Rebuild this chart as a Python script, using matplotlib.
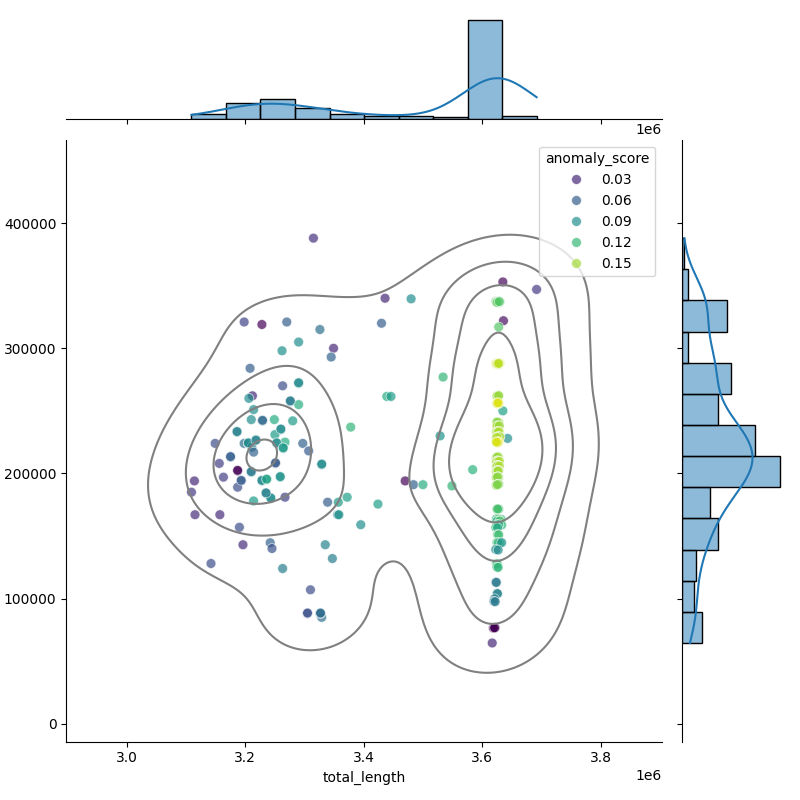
"""
Joint plot of total_length vs value, coloured by anomaly_score,
with KDE contours and marginal histograms.
"""
import matplotlib
matplotlib.use("Agg")
import matplotlib.pyplot as plt
import pandas as pd
import seaborn as sns

# ---- left cluster + scattered points ----
left_length = [
    3198000, 3228000, 3270000, 3326000, 3315000, 3436000, 3480000, 3290000, 3262000, 3349000,
    3345000, 3430000, 3208000, 3263000, 3290000, 3212000, 3206000, 3276000, 3290000, 3214000,
    3249000, 3280000, 3210000, 3229000, 3260000, 3186000, 3250000, 3149000, 3198000, 3205000,
    3218000, 3211000, 3253000, 3267000, 3264000, 3297000, 3307000, 3214000, 3175000, 3251000,
    3329000, 3156000, 3187000, 3163000, 3210000, 3193000, 3228000, 3236000, 3259000, 3114000,
    3109000, 3187000, 3235000, 3267000, 3214000, 3243000, 3115000, 3157000, 3339000, 3357000,
    3372000, 3356000, 3358000, 3378000, 3439000, 3446000, 3424000, 3395000, 3470000, 3484000,
    3500000, 3190000, 3196000, 3242000, 3245000, 3335000, 3142000, 3263000, 3347000, 3310000,
    3305000, 3326000, 3329000, 3327000, 3534000, 3529000, 3549000, 3584000, 3692000, 3643000,
    3635000, 3205000, 3218000, 3253000, 3264000, 3260000, 3186000, 3210000, 3228000, 3236000,
    3193000, 3187000, 3251000, 3259000, 3175000, 3329000, 3276000, 3229000, 3243000, 3235000,
    3327000, 3305000, 3290000,
]
left_value = [
    321000, 319000, 321000, 315000, 388000, 340000, 339500, 305000, 298000, 300000,
    293000, 320000, 284000, 270000, 272000, 262000, 260000, 257500, 255000, 251000,
    243000, 242000, 243000, 242000, 235000, 233000, 231000, 224000, 224000, 224000,
    227000, 221000, 224000, 225000, 220000, 224000, 218000, 217000, 213000, 208000,
    207000, 208000, 202000, 197000, 201000, 194000, 194000, 195000, 197000, 194000,
    185000, 189000, 184000, 181000, 178000, 180000, 167000, 167000, 177000, 177000,
    181000, 167000, 167000, 237000, 261500, 261500, 175500, 159000, 194000, 191000,
    191000, 157000, 143000, 144600, 140000, 143000, 128000, 124000, 132000, 107000,
    88000, 88000, 85000, 88000, 277000, 230000, 190000, 203000, 347000, 228000,
    250000, 224500, 226500, 224500, 220500, 235500, 233500, 201500, 194500, 195500,
    194500, 202500, 208500, 197500, 213500, 207500, 258000, 242500, 180500, 184500,
    88500, 88500, 272500,
]
left_score = [
    0.045, 0.013, 0.060, 0.070, 0.035, 0.030, 0.090, 0.090, 0.092, 0.030,
    0.062, 0.060, 0.060, 0.050, 0.090, 0.030, 0.090, 0.080, 0.112, 0.090,
    0.110, 0.100, 0.090, 0.062, 0.090, 0.090, 0.100, 0.050, 0.070, 0.090,
    0.092, 0.080, 0.080, 0.110, 0.090, 0.062, 0.058, 0.062, 0.060, 0.050,
    0.090, 0.042, 0.012, 0.042, 0.080, 0.060, 0.080, 0.110, 0.100, 0.030,
    0.040, 0.050, 0.085, 0.042, 0.100, 0.092, 0.032, 0.032, 0.060, 0.100,
    0.102, 0.080, 0.095, 0.118, 0.110, 0.100, 0.102, 0.090, 0.014, 0.062,
    0.112, 0.050, 0.032, 0.062, 0.052, 0.082, 0.050, 0.080, 0.080, 0.050,
    0.050, 0.078, 0.070, 0.060, 0.118, 0.095, 0.118, 0.115, 0.040, 0.090,
    0.105, 0.088, 0.080, 0.092, 0.100, 0.088, 0.080, 0.078, 0.090, 0.102,
    0.058, 0.015, 0.058, 0.092, 0.060, 0.088, 0.078, 0.068, 0.090, 0.080,
    0.070, 0.052, 0.088,
]

# ---- dense column near 3.63e6 (many overlapping samples) ----
col_length = [
    3635000,
    3626000, 3628000, 3624000, 3630000, 3627000, 3625000, 3629000, 3626000, 3623000, 3628000,
    3627000, 3625000, 3630000, 3624000, 3626000, 3629000, 3627000, 3625000, 3628000, 3626000,
    3627000, 3625000, 3629000,
    3636000,
    3628000,
    3625000, 3627000, 3624000, 3629000, 3626000, 3628000, 3623000, 3627000, 3625000, 3630000,
    3626000, 3624000, 3628000, 3627000, 3625000, 3629000, 3626000, 3624000, 3627000, 3628000,
    3625000, 3626000, 3629000, 3624000, 3627000, 3626000, 3626000, 3628000,
    3627000, 3625000, 3628000,
    3626000, 3628000, 3625000, 3627000,
    3626000, 3628000, 3625000,
    3627000, 3625000, 3629000,
    3626000, 3628000, 3625000, 3627000, 3629000, 3624000, 3626000, 3628000,
    3627000, 3625000, 3629000, 3626000, 3628000, 3624000, 3627000, 3630000, 3625000,
    3626000, 3627000, 3625000, 3628000, 3626000, 3624000,
    3626000, 3628000, 3625000, 3627000, 3624000, 3626000,
    3627000, 3625000, 3628000, 3626000, 3624000, 3627000, 3629000,
    3626000, 3628000, 3625000, 3627000, 3624000, 3626000, 3629000,
    3625000, 3627000, 3626000, 3628000, 3624000, 3626000, 3627000,
    3626000, 3628000, 3625000, 3627000, 3624000, 3626000,
    3627000, 3625000, 3626000, 3628000, 3624000, 3626000,
    3627000, 3625000, 3628000, 3626000,
    3624000, 3632000, 3627000,
    3628000, 3625000, 3630000,
    3626000, 3633000, 3628000,
    3623000, 3626000,
    3626000, 3628000,
    3625000, 3630000, 3627000, 3633000,
    3623000, 3627000,
    3624000, 3626000, 3625000,
    3625000, 3627000,
    3623000, 3624000,
    3625000, 3626000,
    3621000,
    3620000, 3622000,
    3619000, 3621000, 3620000, 3622000, 3619000, 3621000,
    3617000,
]
col_value = [
    353000,
    337200, 336800, 337500, 336900, 337100, 337300, 336700, 337000, 337400, 336600,
    337200, 336900, 337100, 337300, 336800, 337000, 337600, 336500, 337200, 336900,
    337100, 336800, 337300,
    322000,
    317000,
    287900, 287500, 288100, 287300, 287700, 288000, 287600, 287400, 287800, 288200,
    287500, 287700, 287900, 287600, 287300, 288000, 287800, 287400, 287700, 288100,
    287500, 287900, 287600, 287800, 287200, 287700, 287600, 287900,
    262300, 261800, 262100,
    256300, 255800, 256000, 256500,
    241200, 240700, 241000,
    238200, 237800, 238000,
    233300, 232800, 233100, 232600, 233500, 233000, 232900, 233200,
    229300, 228800, 229100, 228600, 229500, 229000, 228900, 229200, 228700,
    225200, 224800, 225000, 225400, 224600, 225100,
    213200, 212800, 213000, 213400, 212600, 213100,
    209900, 209500, 209700, 210100, 209300, 209800, 209600,
    206200, 205800, 206000, 206400, 205600, 206100, 205900,
    202200, 201800, 202000, 202400, 201600, 202100, 201900,
    197200, 196800, 197000, 197400, 196600, 197100,
    191200, 190800, 191000, 191400, 190600, 191100,
    171700, 171300, 171500, 171600,
    163700, 163300, 163500,
    162200, 161800, 162000,
    159200, 158800, 159000,
    156800, 156600,
    151100, 150900,
    144800, 144400, 144600, 144700,
    139200, 138800,
    127900, 127500, 127700,
    125100, 124900,
    113100, 112900,
    104100, 103900,
    99800,
    97700, 97500,
    76700, 76500, 76600, 76800, 76400, 76600,
    64500,
]
col_score = [
    0.015,
    0.132, 0.128, 0.135, 0.126, 0.130, 0.137, 0.129, 0.133, 0.090, 0.131,
    0.127, 0.134, 0.130, 0.136, 0.092, 0.129, 0.133, 0.128, 0.131, 0.135,
    0.130, 0.134, 0.128,
    0.018,
    0.130,
    0.172, 0.160, 0.142, 0.163, 0.158, 0.145, 0.164, 0.161, 0.140, 0.162,
    0.159, 0.172, 0.143, 0.160, 0.163, 0.157, 0.141, 0.164, 0.162, 0.158,
    0.144, 0.161, 0.172, 0.159, 0.146, 0.163, 0.160, 0.155,
    0.148, 0.150, 0.146,
    0.163, 0.172, 0.161, 0.164,
    0.145, 0.148, 0.143,
    0.150, 0.152, 0.147,
    0.152, 0.148, 0.156, 0.150, 0.154, 0.146, 0.158, 0.151,
    0.150, 0.155, 0.147, 0.158, 0.152, 0.145, 0.160, 0.149, 0.153,
    0.162, 0.172, 0.160, 0.170, 0.161, 0.163,
    0.145, 0.147, 0.143, 0.146, 0.144, 0.148,
    0.150, 0.148, 0.152, 0.147, 0.151, 0.149, 0.153,
    0.150, 0.148, 0.152, 0.147, 0.151, 0.149, 0.153,
    0.148, 0.146, 0.150, 0.145, 0.149, 0.147, 0.151,
    0.145, 0.143, 0.147, 0.142, 0.146, 0.144,
    0.142, 0.140, 0.144, 0.139, 0.143, 0.141,
    0.125, 0.128, 0.122, 0.126,
    0.120, 0.115, 0.123,
    0.130, 0.110, 0.127,
    0.115, 0.118, 0.112,
    0.120, 0.108,
    0.125, 0.122,
    0.120, 0.110, 0.118, 0.095,
    0.090, 0.088,
    0.120, 0.118, 0.122,
    0.120, 0.117,
    0.075, 0.078,
    0.085, 0.082,
    0.080,
    0.075, 0.078,
    0.012, 0.014, 0.013, 0.012, 0.015, 0.013,
    0.030,
]

df = pd.DataFrame({
    "total_length": left_length + col_length,
    "value": left_value + col_value,
    "anomaly_score": left_score + col_score,
})

g = sns.JointGrid(data=df, x="total_length", y="value", height=8)

sns.scatterplot(data=df, x="total_length", y="value", hue="anomaly_score",
                palette="viridis", alpha=0.7, s=50, ax=g.ax_joint)
sns.kdeplot(data=df, x="total_length", y="value", color="gray", levels=5,
            ax=g.ax_joint)

sns.histplot(data=df, x="total_length", bins=10, kde=True, ax=g.ax_marg_x)
sns.histplot(data=df, y="value", bins=13, kde=True, ax=g.ax_marg_y)

g.ax_joint.set_ylabel("")
sns.move_legend(g.ax_joint, "upper right")

g.figure.savefig("out.png", dpi=100)
